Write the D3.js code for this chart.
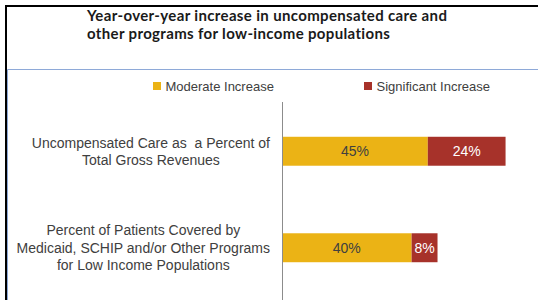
<!DOCTYPE html>
<html>
<head>
<meta charset="utf-8">
<script src="https://cdn.jsdelivr.net/npm/d3@7"></script>
<style>
  body { margin: 0; background: #fff; }
  svg { display: block; }
  text { white-space: pre; }
</style>
</head>
<body>
<div id="chart"></div>
<script>
const titleLines = ["Year-over-year increase in uncompensated care and", "other programs for low-income populations"];
const categories = ["Uncompensated Care as  a Percent of Total Gross Revenues", "Percent of Patients Covered by Medicaid, SCHIP and/or Other Programs for Low Income Populations"];
const categoryLines = [
    ["Uncompensated Care as  a Percent of", "Total Gross Revenues"],
    ["Percent of Patients Covered by", "Medicaid, SCHIP and/or Other Programs", "for Low Income Populations"]
];
const seriesNames = ["Moderate Increase", "Significant Increase"];
const moderate = [45, 40];
const significant = [24, 8];

const width = 538, height = 300;
const colors = ["#EBB315", "#A7322A"];
const labelColors = ["#404040", "#ffffff"];
const font = "'Liberation Sans', Arial, sans-serif";

const svg = d3.select("#chart")
    .append("svg")
    .attr("width", width)
    .attr("height", height);

// frame
svg.append("line").attr("x1", 6).attr("x2", width).attr("y1", 6).attr("y2", 6)
    .attr("stroke", "#000").attr("stroke-width", 2);
svg.append("line").attr("x1", 6).attr("x2", 6).attr("y1", 5).attr("y2", height)
    .attr("stroke", "#000").attr("stroke-width", 2);
svg.append("line").attr("x1", 7.5).attr("x2", width).attr("y1", 69.5).attr("y2", 69.5)
    .attr("stroke", "#8EA9D8").attr("stroke-width", 1);
svg.append("line").attr("x1", 7.5).attr("x2", 7.5).attr("y1", 69.5).attr("y2", height)
    .attr("stroke", "#8EA9D8").attr("stroke-width", 1);

// title, left aligned like the original text box
svg.append("g")
    .attr("font-family", "Lato, 'Open Sans', sans-serif")
    .attr("font-weight", "bold")
    .attr("font-size", 15)
    .attr("letter-spacing", 0.35)
    .attr("fill", "#1a1a1a")
    .selectAll("text")
    .data(titleLines)
    .join("text")
    .attr("x", 87)
    .attr("y", (d, i) => 21 + i * 18)
    .text(d => d);

const rows = categories.map((c, i) => ({name: c, lines: categoryLines[i], values: [moderate[i], significant[i]]}));

const x = d3.scaleLinear().domain([0, 100]).range([282, 606]);
const y = d3.scaleBand()
    .domain(categories)
    .range([103, 296])
    .paddingInner(0.7)
    .paddingOuter(0.35);

// legend
const legend = svg.append("g").attr("font-family", font).attr("font-size", 13);
const legendX = [153, 364];
seriesNames.forEach((s, i) => {
    legend.append("rect")
        .attr("x", legendX[i]).attr("y", 82)
        .attr("width", 8).attr("height", 8)
        .attr("fill", colors[i]);
    legend.append("text")
        .attr("x", legendX[i] + 12.5).attr("y", 91)
        .attr("fill", "#404040")
        .text(s);
});

// stacked bars
const stack = d3.stack().keys([0, 1]).value((d, k) => d.values[k]);
const layers = stack(rows);

const layer = svg.selectAll("g.layer")
    .data(layers)
    .join("g")
    .attr("class", "layer")
    .attr("fill", (d, i) => colors[i]);

layer.selectAll("rect")
    .data(d => d)
    .join("rect")
    .attr("x", d => x(d[0]))
    .attr("y", d => y(d.data.name))
    .attr("width", d => x(d[1]) - x(d[0]))
    .attr("height", y.bandwidth());

layer.selectAll("text")
    .data(d => d)
    .join("text")
    .attr("x", d => (x(d[0]) + x(d[1])) / 2)
    .attr("y", d => y(d.data.name) + y.bandwidth() / 2 + 5)
    .attr("text-anchor", "middle")
    .attr("font-family", font)
    .attr("font-size", 14)
    .attr("fill", function() { return labelColors[d3.select(this.parentNode).datum().key]; })
    .text(d => (d[1] - d[0]) + "%");

// axis line
svg.append("line")
    .attr("x1", x(0) + 0.5).attr("x2", x(0) + 0.5)
    .attr("y1", y.range()[0] - 1).attr("y2", height)
    .attr("stroke", "#8c8c8c").attr("stroke-width", 1);

// category labels, widest line right aligned at the axis, lines centred
const labelRight = 270;
const lineH = 17.5;
rows.forEach(r => {
    const g = svg.append("text")
        .attr("font-family", font)
        .attr("font-size", 14)
        .attr("fill", "#404040")
        .attr("text-anchor", "middle");
    const cy = y(r.name) + y.bandwidth() / 2;
    const tspans = g.selectAll("tspan")
        .data(r.lines)
        .join("tspan")
        .attr("y", (d, i) => cy + 5 + (i - (r.lines.length - 1) / 2) * lineH)
        .text(d => d);
    let maxW = 0;
    tspans.each(function() { maxW = Math.max(maxW, this.getComputedTextLength()); });
    tspans.attr("x", labelRight - maxW / 2);
});
</script>
</body>
</html>
